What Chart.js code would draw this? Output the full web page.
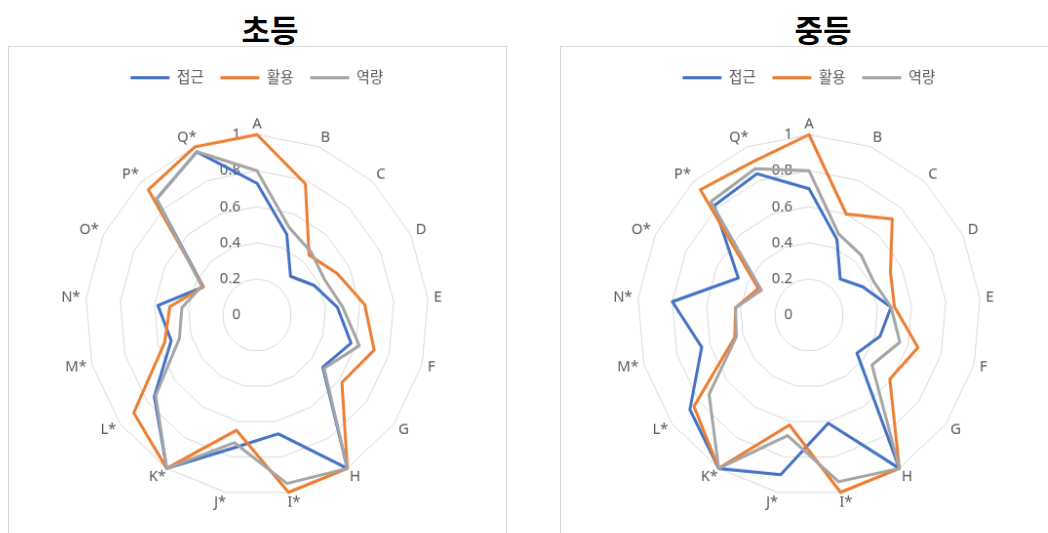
<!DOCTYPE html>
<html lang="ko">
<head>
<meta charset="utf-8">
<script src="https://cdn.jsdelivr.net/npm/chart.js@4.4.1/dist/chart.umd.min.js"></script>
<style>
  html, body { margin: 0; padding: 0; background: #fff; width: 1048px; height: 533px; overflow: hidden; }
  .title { position: absolute; top: 8px; width: 200px; text-align: center; font: bold 31px 'Noto Sans CJK KR', sans-serif; color: #000; line-height: 42px; }
  .box { position: absolute; top: 46px; width: 497px; height: 520px; border: 1px solid #d9d9d9; background: #fff; overflow: hidden; }
  /* the source plot is a little taller than wide */
  .box canvas { display: block; transform-origin: 248px 268px; transform: scale(0.975, 1.025); }
</style>
</head>
<body>
<div class="title" style="left:170px">초등</div>
<div class="title" style="left:723px">중등</div>
<div class="box" style="left:8px"><canvas id="elemChart" width="487" height="498"></canvas></div>
<div class="box" style="left:560px"><canvas id="midChart" width="487" height="498"></canvas></div>

<script>
const categories = ['A', 'B', 'C', 'D', 'E', 'F', 'G', 'H', 'I*', 'J*', 'K*', 'L*', 'M*', 'N*', 'O*', 'P*', 'Q*'];
const seriesNames = ['접근', '활용', '역량'];
const tickValues = [0, 0.2, 0.4, 0.6, 0.8, 1];

// 초등
const elemAccess = [0.73, 0.48, 0.29, 0.37, 0.47, 0.57, 0.48, 1.0, 0.67, 0.75, 1.0, 0.75, 0.52, 0.58, 0.35, 0.87, 0.97];
const elemUse    = [1.0, 0.78, 0.45, 0.52, 0.63, 0.71, 0.62, 1.0, 1.0, 0.65, 1.0, 0.90, 0.56, 0.51, 0.35, 0.94, 1.0];
const elemComp   = [0.80, 0.52, 0.47, 0.44, 0.50, 0.62, 0.49, 1.0, 0.95, 0.72, 1.0, 0.74, 0.47, 0.44, 0.36, 0.87, 0.97];

// 중등
const midAccess = [0.70, 0.45, 0.27, 0.35, 0.48, 0.43, 0.35, 1.0, 0.61, 0.90, 1.0, 0.87, 0.65, 0.80, 0.46, 0.82, 0.84];
const midUse    = [1.0, 0.60, 0.72, 0.53, 0.50, 0.66, 0.59, 1.0, 1.0, 0.62, 1.0, 0.84, 0.45, 0.43, 0.33, 0.94, 0.91];
const midComp   = [0.80, 0.48, 0.45, 0.42, 0.48, 0.55, 0.46, 1.0, 0.94, 0.68, 1.0, 0.73, 0.44, 0.43, 0.31, 0.85, 0.87];

const COLORS = ['#4472c4', '#ed7d31', '#a5a5a5'];
const TEXT = '#595959';
const FONT = "'Noto Sans', 'Noto Sans CJK KR', sans-serif";

Chart.defaults.font.family = FONT;

// value labels left of the vertical axis, category labels centred on their
// spoke like the Office original; both drawn under the lines
const axisText = {
  id: 'axisText',
  beforeDatasetsDraw(chart) {
    const scale = chart.scales.r;
    const ctx = chart.ctx;
    ctx.save();
    ctx.font = `15px ${FONT}`;
    ctx.fillStyle = TEXT;
    ctx.textBaseline = 'middle';

    ctx.textAlign = 'right';
    tickValues.forEach((v) => {
      const d = scale.getDistanceFromCenterForValue(v);
      ctx.fillText(String(v), scale.xCenter - 17, scale.yCenter - d);
    });

    ctx.textAlign = 'center';
    categories.forEach((label, i) => {
      const p = scale.getPointPosition(i, scale.drawingArea + 2);
      const theta = p.angle + Math.PI / 2;
      const sin = Math.sin(theta);
      const side = Math.abs(sin) < 0.01 ? 0 : Math.sign(sin);
      const w = ctx.measureText(label).width;
      ctx.fillText(label, p.x + sin * w / 2 + side * 4, p.y - Math.cos(theta) * 8);
    });
    ctx.restore();
  },
};

function makeRadar(canvasId, series) {
  return new Chart(document.getElementById(canvasId), {
    type: 'radar',
    data: {
      labels: categories,
      datasets: series.map((values, i) => ({
        label: seriesNames[i],
        data: values,
        borderColor: COLORS[i],
        backgroundColor: COLORS[i],
        borderWidth: 3,
        borderJoinStyle: 'round',
        pointRadius: 0,
        fill: false,
        tension: 0,
        order: 2 - i,
      })),
    },
    options: {
      responsive: false,
      animation: false,
      layout: { padding: { top: 12, left: 72, right: 63, bottom: 16 } },
      scales: {
        r: {
          min: 0,
          max: 1,
          ticks: { display: false, stepSize: 0.2 },
          grid: { color: '#d9d9d9', lineWidth: 1 },
          angleLines: { display: false },
          pointLabels: { display: false },
        },
      },
      plugins: {
        tooltip: { enabled: false },
        legend: {
          position: 'top',
          labels: {
            color: TEXT,
            boxWidth: 40,
            boxHeight: 3,
            padding: 17,
            font: { size: 15, family: FONT },
            generateLabels(chart) {
              return Chart.defaults.plugins.legend.labels.generateLabels(chart)
                .sort((a, b) => a.datasetIndex - b.datasetIndex)
                .map((item) => ({ ...item, fillStyle: item.strokeStyle, lineWidth: 0 }));
            },
          },
        },
      },
    },
    plugins: [axisText],
  });
}

makeRadar('elemChart', [elemAccess, elemUse, elemComp]);
makeRadar('midChart', [midAccess, midUse, midComp]);
</script>
</body>
</html>
